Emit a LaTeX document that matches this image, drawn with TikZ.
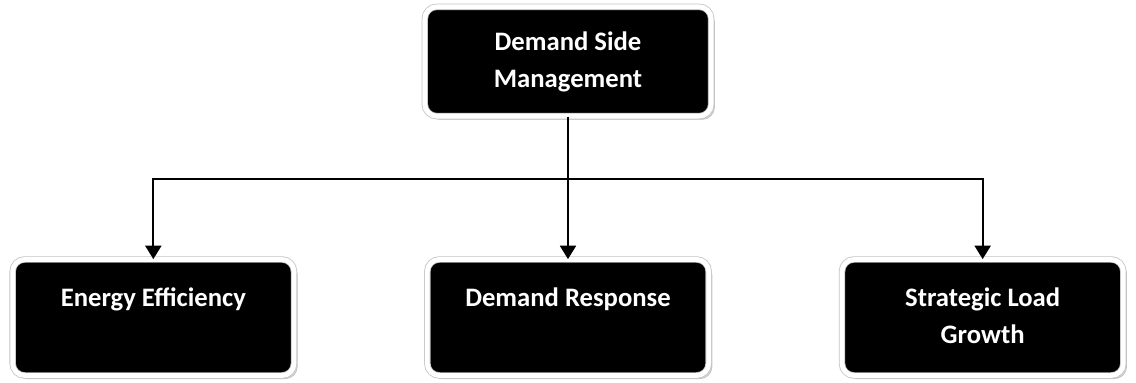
\documentclass[tikz,border=0pt]{standalone}
\usepackage{fontspec}
\setmainfont{Carlito}
\usepackage{tikz}
\usetikzlibrary{arrows,arrows.meta,shapes,positioning,shadows}
\usepackage{xcolor}
\definecolor{dsmgray}{RGB}{195,195,195}
\definecolor{dsmshadow}{RGB}{218,218,218}
\tikzstyle{arrow} = [line width=1.4pt,-{Triangle[length=10pt,width=12pt]},color=black]
\tikzstyle{link} = [line width=1.4pt,color=black]
\tikzstyle{dsmbox} = [rectangle, rounded corners=9pt, minimum width=211pt, minimum height=87pt, text centered, text=white, fill=black, draw=dsmgray, line width=0.6pt, double=white, double distance=3.6pt, font=\fontsize{20}{28}\selectfont\bfseries,
  copy shadow={shadow xshift=2.4pt, shadow yshift=-2.4pt, opacity=1, fill=dsmshadow, draw=dsmgray},
  copy shadow={shadow xshift=1.2pt, shadow yshift=-1.2pt, opacity=1, fill=dsmshadow, draw=dsmgray}]

\begin{document}
\begin{tikzpicture}[node distance=192pt]
\useasboundingbox (-426pt,46.1pt) rectangle (426pt,-241.1pt);
% Top level
\node (dsm) [dsmbox, minimum width=214.8pt, minimum height=82pt] {
\begin{tabular}{c}
Demand Side\\
Management
\end{tabular}
};

% Three programmes
\node (response) [dsmbox, below of=dsm] {
\begin{tabular}{c}
Demand Response\\
~
\end{tabular}
};

\node (efficiency) [dsmbox, left of=response, node distance=311pt] {
\begin{tabular}{c}
Energy Efficiency\\
~
\end{tabular}
};

\node (growth) [dsmbox, right of=response, node distance=311pt] {
\begin{tabular}{c}
Strategic Load\\
Growth
\end{tabular}
};

\coordinate [below of=dsm, node distance=88pt] (split);
\draw[link] (dsm) -- (split);
\draw[arrow] (split) -- (response);
\draw[arrow] (split) -| (efficiency);
\draw[arrow] (split) -| (growth);
\end{tikzpicture}
\end{document}
